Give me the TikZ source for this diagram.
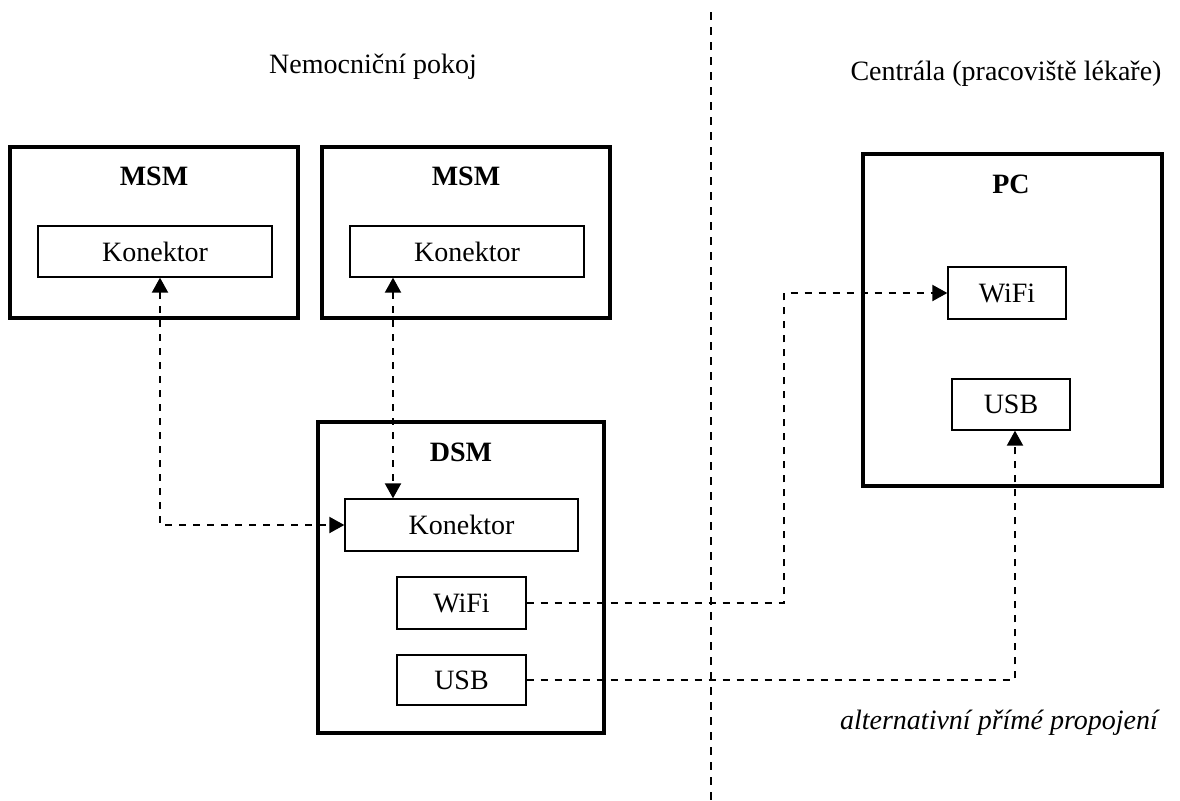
\documentclass[tikz,border=0pt]{standalone}
\usepackage{fontspec}
\setmainfont{Liberation Serif}
\usetikzlibrary{arrows.meta}
\begin{document}
\begin{tikzpicture}[x=0.5pt,y=-0.5pt,
  bigbox/.style={draw, line width=2pt, inner sep=0pt},
  smallbox/.style={draw, line width=0.65pt, inner sep=0pt, font=\fontsize{14}{17}\selectfont},
  title/.style={font=\fontsize{14}{17}\selectfont\bfseries, anchor=base, inner sep=0pt},
  plain/.style={font=\fontsize{14}{17}\selectfont, anchor=base, inner sep=0pt},
  conn/.style={line width=1pt, dash pattern=on 3.5pt off 3.5pt},
  tip/.style={-{Triangle[length=7.5pt,width=8pt]}},
  tips/.style={{Triangle[length=7.5pt,width=8pt]}-{Triangle[length=7.5pt,width=8pt]}},
  divider/.style={line width=1.1pt, dash pattern=on 4pt off 3.5pt}]
\useasboundingbox (0,0) rectangle (1180,800);
% headings
\node[plain] (room) at (373,73) {Nemocniční pokoj};
\node[plain] (central) at (1006,80) {Centrála (pracoviště lékaře)};
\node[plain, font=\fontsize{14}{17}\selectfont\itshape] (alt) at (999,729) {alternativní přímé propojení};
% divider
\coordinate (dtop) at (711,12);
\coordinate (dbot) at (711,800);
\draw[divider] (dtop) -- (dbot);
% big boxes
\node[bigbox, minimum width=144pt, minimum height=85.5pt] (msm1) at (154,232.5) {};
\node[bigbox, minimum width=144pt, minimum height=85.5pt] (msm2) at (466,232.5) {};
\node[bigbox, minimum width=143pt, minimum height=155.5pt] (dsm) at (461,577.5) {};
\node[bigbox, minimum width=149.5pt, minimum height=166pt] (pc) at (1012.5,320) {};
% titles
\node[title] (msm1t) at (154,185) {MSM};
\node[title] (msm2t) at (466,185) {MSM};
\node[title] (dsmt) at (461,461) {DSM};
\node[title] (pct) at (1011,193) {PC};
% small boxes
\node[smallbox, minimum width=117pt, minimum height=25.5pt] (k1) at (155,251.5) {Konektor};
\node[smallbox, minimum width=117pt, minimum height=25.5pt] (k2) at (467,251.5) {Konektor};
\node[smallbox, minimum width=116.5pt, minimum height=26pt] (k3) at (461.5,525) {Konektor};
\node[smallbox, minimum width=64.5pt, minimum height=26pt] (w1) at (461.5,603) {WiFi};
\node[smallbox, minimum width=64.5pt, minimum height=25pt] (u1) at (461.5,680) {USB};
\node[smallbox, minimum width=59pt, minimum height=26pt] (w2) at (1007,293) {WiFi};
\node[smallbox, minimum width=59pt, minimum height=25.5pt] (u2) at (1011,404.5) {USB};
% connectors
\coordinate (v2) at (393,0);
\coordinate (c1) at (784,0);
\draw[conn, tips] ([xshift=2.5pt]k1.south) |- (k3.west);
\draw[conn, tips] (k2.south -| v2) -- (k3.north -| v2);
\draw[conn, tip] (w1.east) -- (w1.east -| c1) |- (w2.west);
\draw[conn, tip] (u1.east) -| ([xshift=2pt]u2.south);
\end{tikzpicture}
\end{document}
